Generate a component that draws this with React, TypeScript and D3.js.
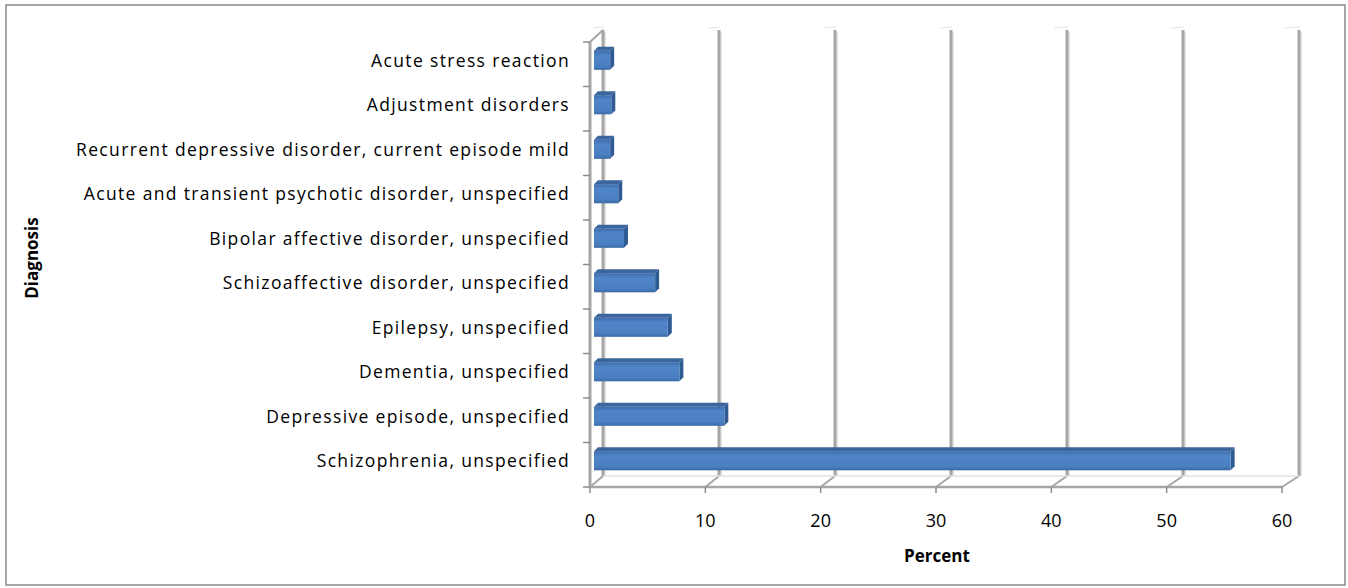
import * as d3 from 'd3';

const categories = [
  'Acute stress reaction',
  'Adjustment disorders',
  'Recurrent depressive disorder, current episode mild',
  'Acute and transient psychotic disorder, unspecified',
  'Bipolar affective disorder, unspecified',
  'Schizoaffective disorder, unspecified',
  'Epilepsy, unspecified',
  'Dementia, unspecified',
  'Depressive episode, unspecified',
  'Schizophrenia, unspecified',
];
const percents = [1.4, 1.5, 1.4, 2.1, 2.6, 5.3, 6.4, 7.4, 11.3, 55.2];
const xTicks = [0, 10, 20, 30, 40, 50, 60];

const W = 1348;
const H = 588;
// front plane / back plane of the 3D box
const front = { left: 590, right: 1282, top: 42, bottom: 487 };
const back = { left: 603, right: 1299, top: 30, bottom: 476 };
const GRID = '#a6a6a6';
const FONT = '"Open Sans", Lato, sans-serif';

export default function App() {
  const xf = d3.scaleLinear().domain([0, 60]).range([front.left, front.right]);
  const xb = d3.scaleLinear().domain([0, 60]).range([back.left, back.right]);
  const y = d3.scaleBand<string>().domain(categories).range([front.top, front.bottom]).padding(0);
  const bw = y.bandwidth();

  // bars sit a bit behind the front plane
  const bx = (v: number) => xf(v) + 4;
  const dep = 4;
  const barH = bw * 0.43;

  return (
    <svg width={W} height={H} style={{ position: 'absolute', left: 0, top: 0, background: '#fff' }}>
      <defs>
        <linearGradient id="barFront" x1="0" y1="0" x2="0" y2="1">
          <stop offset="0" stopColor="#3d6cab" />
          <stop offset="0.25" stopColor="#4f85c9" />
          <stop offset="0.8" stopColor="#4a7fc1" />
          <stop offset="1" stopColor="#3b6aa6" />
        </linearGradient>
      </defs>
      <rect x={6} y={5} width={1339} height={580} fill="#fff" stroke="#8a8a8a" strokeWidth={1.5} />

      {/* back wall gridlines */}
      {xTicks.map(t => (
        <g key={'g' + t}>
          <line x1={xb(t) + 2} x2={xb(t) + 2} y1={back.top + 2} y2={back.bottom} stroke="#e4e4e4" strokeWidth={2} />
          <line x1={xb(t)} x2={xb(t)} y1={back.top} y2={back.bottom} stroke={GRID} strokeWidth={3} />
          <line x1={xf(t)} y1={front.bottom} x2={xb(t)} y2={back.bottom} stroke={GRID} strokeWidth={2} />
          <line x1={xf(t) + 3} y1={front.top - 14} x2={xb(t) + 1} y2={back.top - 3} stroke="#e6e6e6" strokeWidth={1} />
        </g>
      ))}
      <line x1={back.left} x2={back.right} y1={back.bottom} y2={back.bottom} stroke="#e0e0e0" strokeWidth={1.5} />
      {/* left wall */}
      <line x1={front.left} x2={back.left} y1={front.top} y2={back.top} stroke={GRID} strokeWidth={2} />
      <line x1={front.left} x2={front.left} y1={front.top} y2={front.bottom} stroke={GRID} strokeWidth={3} />
      {/* floor front edge */}
      <line x1={front.left} x2={front.right} y1={front.bottom} y2={front.bottom} stroke={GRID} strokeWidth={2.5} />

      {/* y ticks */}
      {[...categories.map(c => y(c)!), front.bottom].map((yy, i) => (
        <line key={'yt' + i} x1={front.left - 7} x2={front.left} y1={yy} y2={yy} stroke="#8c8c8c" strokeWidth={1.5} />
      ))}
      {/* x ticks */}
      {xTicks.map(t => (
        <g key={'xt' + t}>
          <line x1={xf(t)} x2={xf(t)} y1={front.bottom} y2={front.bottom + 6} stroke="#8c8c8c" strokeWidth={1.5} />
          <text x={xf(t)} y={527} textAnchor="middle" fontFamily={FONT} fontSize={18} fill="#000">{t}</text>
        </g>
      ))}

      {/* bars */}
      {categories.map((c, i) => {
        const v = percents[i];
        const x0 = bx(0);
        const x1 = bx(v);
        const yc = y(c)! + bw / 2 - 4;
        const y0 = yc - barH / 2;
        const y1 = yc + barH / 2;
        return (
          <g key={'b' + c}>
            <path d={`M${x0},${y0} L${x1},${y0} L${x1 + dep},${y0 - dep} L${x0 + dep},${y0 - dep} Z`} fill="#3a659d" />
            <path d={`M${x1},${y0} L${x1 + dep},${y0 - dep} L${x1 + dep},${y1 - dep} L${x1},${y1} Z`} fill="#2f5a92" />
            <rect x={x0} y={y0} width={x1 - x0} height={y1 - y0} fill="url(#barFront)" />
          </g>
        );
      })}

      {/* category labels */}
      {categories.map(c => (
        <text key={'l' + c} x={570} y={y(c)! + bw / 2 - 4} dy="0.36em" textAnchor="end" fontFamily={FONT} fontSize={17.5} letterSpacing={1.35} fill="#000">{c}</text>
      ))}

      <text x={937} y={562} textAnchor="middle" fontFamily={FONT} fontSize={17} fontWeight="bold" fill="#000">Percent</text>
      <text transform={`translate(38,258) rotate(-90)`} textAnchor="middle" fontFamily={FONT} fontSize={17} fontWeight="bold" fill="#000">Diagnosis</text>
    </svg>
  );
}
